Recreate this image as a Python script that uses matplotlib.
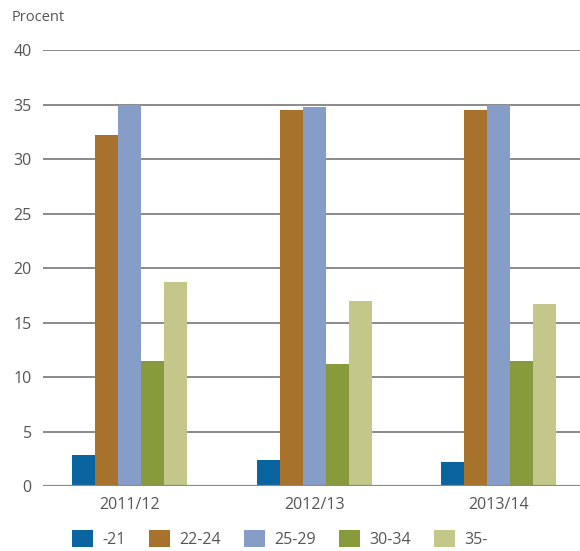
import matplotlib
matplotlib.use("Agg")
import matplotlib.pyplot as plt
import numpy as np

plt.rcParams['font.family'] = ['Open Sans', 'DejaVu Sans']

years = ["2011/12", "2012/13", "2013/14"]
groups = ["-21", "22-24", "25-29", "30-34", "35-"]
v_21 = [2.8, 2.4, 2.2]
v_22_24 = [32.2, 34.5, 34.5]
v_25_29 = [35.0, 34.8, 35.0]
v_30_34 = [11.5, 11.2, 11.5]
v_35 = [18.7, 17.0, 16.7]
series = [v_21, v_22_24, v_25_29, v_30_34, v_35]
colors = ["#0a64a0", "#a6722c", "#869dc8", "#879b3c", "#c3c88a"]
yticks = [0, 5, 10, 15, 20, 25, 30, 35, 40]

fig = plt.figure(figsize=(5.8, 5.51), dpi=100)
ax = fig.add_axes([0.074, 0.118, 0.926, 0.791])

x = np.arange(len(years))
w = 0.1245
for i, (vals, c, lab) in enumerate(zip(series, colors, groups)):
    ax.bar(x + (i - 2) * w, vals, width=w, color=c, label=lab, zorder=3)

ax.set_ylim(0, 40)
ax.set_xlim(-0.47, 2.44)
ax.set_yticks(yticks)
ax.set_xticks(x)
ax.set_xticklabels(years)
ax.yaxis.grid(True, color="#8a8a8a", linewidth=1.4, zorder=0)
ax.set_axisbelow(True)
for s in ax.spines.values():
    s.set_visible(False)
ax.tick_params(axis="both", length=0, labelsize=11.5, colors="#555555")
ax.tick_params(axis="y", pad=8)
ax.tick_params(axis="x", pad=8)
ax.axhline(0, color="#8a8a8a", linewidth=1.6, zorder=4)

fig.text(0.02, 0.955, "Procent", fontsize=10.5, color="#555555", ha="left", va="bottom")

leg = fig.legend(loc="lower left", bbox_to_anchor=(0.113, -0.006), ncol=5, frameon=False,
                 fontsize=11.5, handlelength=1.3, handleheight=1.3, handletextpad=0.6,
                 columnspacing=1.45, borderaxespad=0.0)
for t in leg.get_texts():
    t.set_color("#555555")

fig.savefig("out.png", dpi=100)
